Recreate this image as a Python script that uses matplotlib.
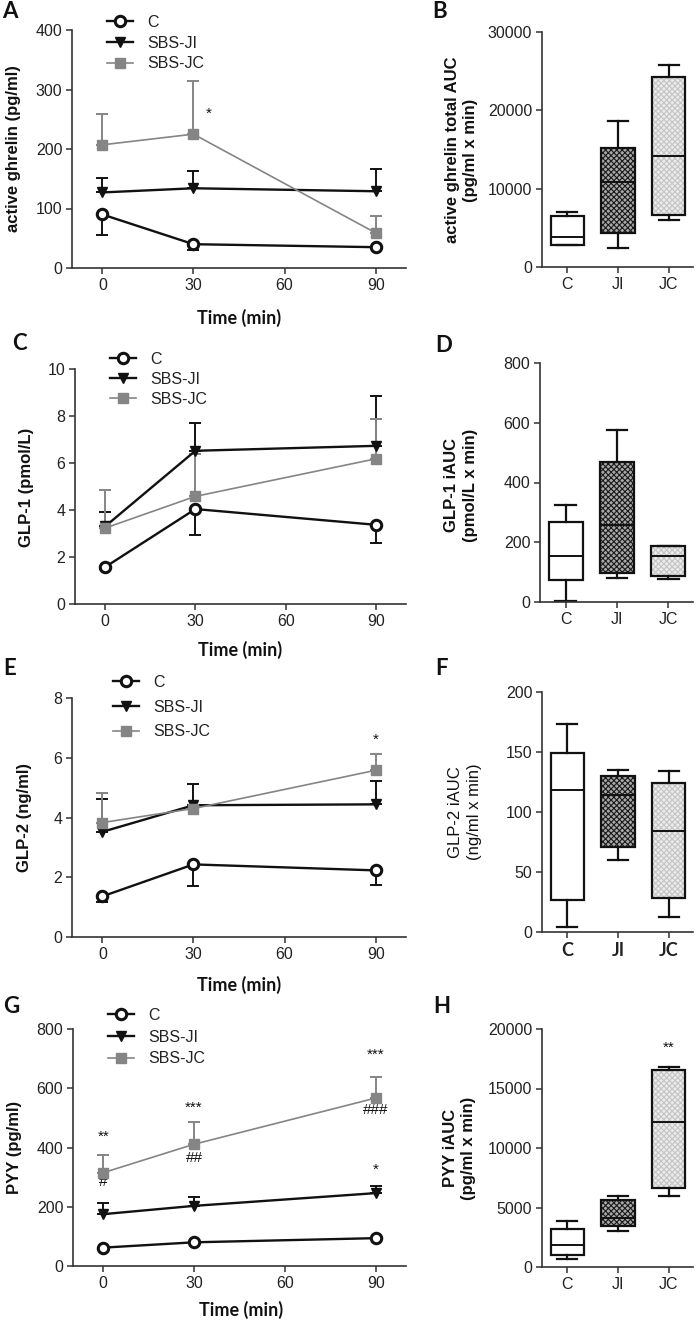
import matplotlib
matplotlib.use('Agg')
import matplotlib.pyplot as plt
from matplotlib.patches import PathPatch

W, H = 697, 1323
plt.rcParams['font.family'] = ['Liberation Sans', 'DejaVu Sans']
plt.rcParams['hatch.linewidth'] = 0.8

# ---- data ----
time = [0, 30, 90]
groups = ['C', 'SBS-JI', 'SBS-JC']
box_cats = ['C', 'JI', 'JC']

# A: active ghrelin (pg/ml), mean and one-sided SEM
ghr_c = [90, 40, 35]
ghr_c_err = [35, 10, 2]
ghr_ji = [127, 134, 129]
ghr_ji_err = [24, 29, 38]
ghr_jc = [207, 225, 59]
ghr_jc_err = [52, 89, 29]

# C: GLP-1 (pmol/L)
glp1_c = [1.57, 4.04, 3.37]
glp1_c_err = [0.1, 1.09, 0.77]
glp1_ji = [3.30, 6.52, 6.73]
glp1_ji_err = [0.6, 1.2, 2.12]
glp1_jc = [3.23, 4.58, 6.18]
glp1_jc_err = [1.63, 1.8, 1.69]

# E: GLP-2 (ng/ml)
glp2_c = [1.36, 2.43, 2.23]
glp2_c_err = [0.2, 0.72, 0.5]
glp2_ji = [3.52, 4.41, 4.44]
glp2_ji_err = [1.1, 0.72, 0.78]
glp2_jc = [3.83, 4.30, 5.58]
glp2_jc_err = [1.0, 0.05, 0.54]

# G: PYY (pg/ml)
pyy_c = [62, 80, 94]
pyy_c_err = [3, 3, 3]
pyy_ji = [175, 203, 246]
pyy_ji_err = [39, 29, 24]
pyy_jc = [315, 411, 567]
pyy_jc_err = [58, 75, 70]

# box plots: [min, q1, median, q3, max] for C, JI, JC
auc_ghr = [[2800, 2850, 3840, 6490, 7040],
           [2430, 4400, 10840, 15150, 18650],
           [5980, 6620, 14200, 24240, 25740]]
iauc_glp1 = [[4, 75, 155, 268, 325],
             [80, 97, 259, 469, 575],
             [77, 86, 155, 186, 186]]
iauc_glp2 = [[4, 27, 118, 149, 173],
             [60, 71, 114, 130, 135],
             [12.5, 28, 84, 124, 134]]
iauc_pyy = [[700, 1040, 1820, 3170, 3840],
            [3000, 3420, 4150, 5610, 5950],
            [5950, 6680, 12200, 16550, 16770]]

# significance marks (x, y, text)
marks_a = [(35, 260, '*')]
marks_e = [(90, 6.6, '*')]
marks_g = [(0, 437, '**'), (0, 282, '#'), (30, 533, '***'), (30, 364, '##'),
           (90, 713, '***'), (90, 525, '###'), (90, 325, '*')]
marks_h = [(2, 18400, '**')]

fig = plt.figure(figsize=(W / 100, H / 100), dpi=100)


def add_ax(l, t, r, b):
    return fig.add_axes([l / W, 1 - b / H, (r - l) / W, (b - t) / H])


def style(ax):
    for s in ['top', 'right']:
        ax.spines[s].set_visible(False)
    for s in ['left', 'bottom']:
        ax.spines[s].set_linewidth(1.2)
        ax.spines[s].set_color('#333333')
    ax.tick_params(direction='out', length=4, width=1.1, color='#333333',
                   labelsize=11.5, labelcolor='#222222', pad=3)


def time_panel(ax, series, errs, ymax, ystep, leg_xy, spacing):
    style(ax)
    cols = ['#111111', '#111111', '#858585']
    mk = [dict(marker='o', ms=7.5, mfc='white', mec='#111111', mew=2.2),
          dict(marker='v', ms=7.5, mfc='#111111', mec='#111111', mew=1),
          dict(marker='s', ms=6.5, mfc='#858585', mec='#858585', mew=1)]
    lws = [1.7, 1.7, 1.2]
    handles = []
    for i in range(3):
        lo = errs[i] if i == 0 else [0] * 3
        hi = [0] * 3 if i == 0 else errs[i]
        ax.errorbar(time, series[i], yerr=[lo, hi], fmt='none', ecolor=cols[i],
                    elinewidth=1.4, capsize=4.5, capthick=1.4, zorder=2, clip_on=False)
        h, = ax.plot(time, series[i], color=cols[i], lw=lws[i], zorder=3 + i,
                     clip_on=False, label=groups[i], **mk[i])
        handles.append(h)
    ax.set_xlim(-10, 100)
    ax.set_ylim(0, ymax)
    ax.set_xticks([0, 30, 60, 90])
    ax.set_yticks([v * ystep for v in range(int(round(ymax / ystep)) + 1)])
    leg = ax.legend(handles=handles, loc='upper left', frameon=False,
                    bbox_to_anchor=(leg_xy[0] / W, 1 - leg_xy[1] / H),
                    bbox_transform=fig.transFigure, borderaxespad=0, borderpad=0,
                    handlelength=1.65, handletextpad=0.9, labelspacing=spacing,
                    fontsize=11.5)
    for t in leg.get_texts():
        t.set_color('#222222')
    return ax


def box_panel(ax, stats, ymax, ystep, bold_ticks=False):
    style(ax)
    st = [dict(whislo=s[0], q1=s[1], med=s[2], q3=s[3], whishi=s[4], label=c)
          for s, c in zip(stats, box_cats)]
    bp = ax.bxp(st, positions=[0, 1, 2], widths=0.66, capwidths=0.4,
                patch_artist=True, showfliers=False,
                boxprops=dict(lw=1.6, edgecolor='#111111'),
                whiskerprops=dict(lw=1.6, color='#111111'),
                capprops=dict(lw=1.6, color='#111111'),
                medianprops=dict(lw=1.4, color='#111111'))
    fills = [('white', None, '#111111'), ('#a8a8a8', 'xxxxxx', '#1a1a1a'),
             ('#ececec', 'xxxxxx', '#c4c4c4')]
    for box, (fc, hatch, hc) in zip(bp['boxes'], fills):
        box.set_facecolor(fc)
        if hatch:
            box.set_hatch(hatch)
            box.set_edgecolor(hc)
            box.set_linewidth(0)
            ax.add_patch(PathPatch(box.get_path(), transform=box.get_transform(),
                                   fill=False, edgecolor='#111111', lw=1.6, zorder=3))
    ax.set_xlim(-0.5, 2.48)
    ax.set_ylim(0, ymax)
    ax.set_yticks(range(0, ymax + 1, ystep))
    ax.set_xticks([0, 1, 2], box_cats)
    if bold_ticks:
        for t in ax.get_xticklabels():
            t.set_fontfamily('Lato')
            t.set_fontweight('bold')
            t.set_fontsize(13)
    return ax


def add_marks(ax, marks):
    for x, y, s in marks:
        ax.text(x, y, s, ha='center', va='center', fontsize=11, color='#111111')


def ylab(x, y, s, bold=True):
    fig.text(x / W, 1 - y / H, s, rotation=90, ha='center', va='center',
             fontsize=12, fontweight='bold' if bold else 'normal',
             linespacing=1.25, color='#111111')


def time_label(x, y):
    fig.text(x / W, 1 - y / H, 'Time (min)', ha='center', va='center',
             fontsize=13, fontweight='bold', family='Lato', color='#111111')


def letter(x, y, s):
    fig.text(x / W, 1 - y / H, s, ha='left', va='baseline', fontsize=16,
             fontweight='bold', family='Lato', color='#111111')


# ---- A ----
axA = add_ax(72, 30, 406, 268)
time_panel(axA, [ghr_c, ghr_ji, ghr_jc], [ghr_c_err, ghr_ji_err, ghr_jc_err],
           400, 100, (107, 15), 0.35)
add_marks(axA, marks_a)
ylab(14, 149, 'active ghrelin (pg/ml)')
time_label(239, 318)
letter(2, 18, 'A')

# ---- B ----
axB = add_ax(542, 32, 693, 267)
box_panel(axB, auc_ghr, 30000, 10000)
ylab(461, 150, 'active ghrelin total AUC\n(pg/ml x min)')
letter(432, 18, 'B')

# ---- C ----
axC = add_ax(75, 369, 406, 604)
time_panel(axC, [glp1_c, glp1_ji, glp1_jc], [glp1_c_err, glp1_ji_err, glp1_jc_err],
           10, 2, (110, 352), 0.3)
ylab(27, 487, 'GLP-1 (pmol/L)')
time_label(240, 650)
letter(12, 350, 'C')

# ---- D ----
axD = add_ax(540, 363, 693, 602)
box_panel(axD, iauc_glp1, 800, 200)
ylab(461, 485, 'GLP-1 iAUC\n(pmol/L x min)')
letter(435, 352, 'D')

# ---- E ----
axE = add_ax(72, 698, 406, 937)
time_panel(axE, [glp2_c, glp2_ji, glp2_jc], [glp2_c_err, glp2_ji_err, glp2_jc_err],
           8, 2, (113, 675), 0.6)
add_marks(axE, marks_e)
ylab(25, 817, 'GLP-2 (ng/ml)')
time_label(239, 985)
letter(3, 675, 'E')

# ---- F ----
axF = add_ax(542, 692, 693, 932)
box_panel(axF, iauc_glp2, 200, 50, bold_ticks=True)
ylab(465, 812, 'GLP-2 iAUC\n(ng/ml x min)', bold=False)
letter(435, 675, 'F')

# ---- G ----
axG = add_ax(73, 1029, 406, 1266)
time_panel(axG, [pyy_c, pyy_ji, pyy_jc], [pyy_c_err, pyy_ji_err, pyy_jc_err],
           800, 200, (108, 1008), 0.42)
add_marks(axG, marks_g)
ylab(15, 1147, 'PYY (pg/ml)')
time_label(241, 1310)
letter(3, 1013, 'G')

# ---- H ----
axH = add_ax(542, 1029, 693, 1267)
box_panel(axH, iauc_pyy, 20000, 5000)
add_marks(axH, marks_h)
ylab(460, 1148, 'PYY iAUC\n(pg/ml x min)')
letter(433, 1013, 'H')

fig.savefig('out.png', dpi=100)
